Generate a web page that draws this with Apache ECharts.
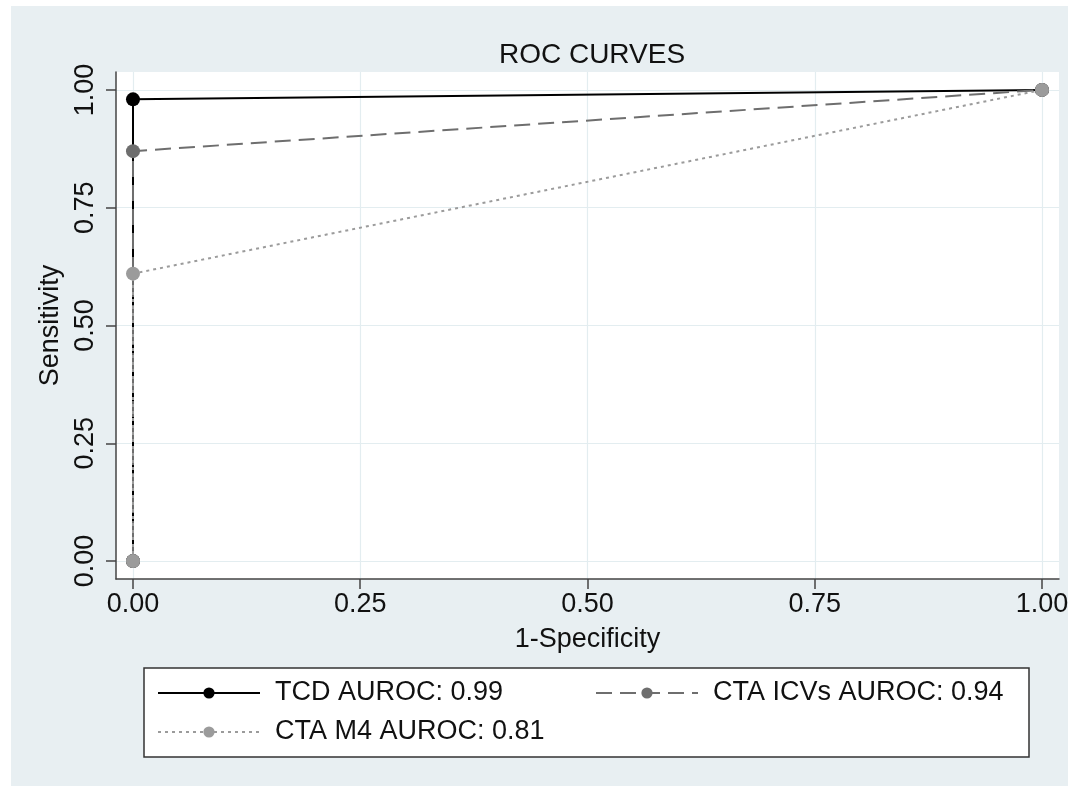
<!DOCTYPE html>
<html lang="en">

<head>
    <meta charset="UTF-8">
    <title>ROC curves</title>
    <script src="https://cdn.jsdelivr.net/npm/echarts@6/dist/echarts.min.js"></script>
    <style>
        body {
            margin: 0;
            background: #fff;
        }

        #chart {
            width: 1068px;
            height: 786px;
            background: linear-gradient(#e8eff2, #e8eff2) 11px 6px / 1057px 780px no-repeat, #fff;
        }
    </style>
</head>

<body>
    <div id="chart"></div>

    <script>
        // 1-specificity points shared by all three curves
        const fpr = [0, 0, 1];
        const tcdSens = [0, 0.98, 1];
        const icvSens = [0, 0.87, 1];
        const m4Sens = [0, 0.61, 1];

        const seriesNames = ['TCD AUROC: 0.99', 'CTA ICVs AUROC: 0.94', 'CTA M4 AUROC: 0.81'];
        const tickValues = [0, 0.25, 0.5, 0.75, 1];

        const font = '"Liberation Sans", Arial, Helvetica, sans-serif';

        function toPoints(ys) {
            return fpr.map((x, i) => [x, ys[i]]);
        }

        let chart = echarts.init(document.getElementById('chart'));

        let axisCommon = {
            type: 'value',
            nameLocation: 'middle',
            nameTextStyle: { fontSize: 27, color: '#111', fontFamily: font },
            axisLine: { show: true, onZero: false, lineStyle: { color: '#444', width: 1.5 } },
            axisTick: { show: true, length: 10, customValues: tickValues, lineStyle: { color: '#444', width: 1.5 } },
            axisLabel: {
                customValues: tickValues,
                fontSize: 27,
                color: '#111',
                fontFamily: font,
                formatter: v => v.toFixed(2)
            },
            splitLine: { show: true, lineStyle: { color: '#e3edf0', width: 1.2 } }
        };

        let option = {
            animation: false,
            backgroundColor: 'transparent',
            title: {
                text: 'ROC CURVES',
                left: 587,
                top: 36,
                textAlign: 'center',
                textStyle: { fontSize: 28, fontWeight: 'normal', color: '#111', fontFamily: font }
            },
            grid: {
                left: 116,
                right: 9,
                top: 72,
                bottom: 207,
                show: true,
                backgroundColor: '#fff',
                borderWidth: 0,
                containLabel: false,
                outerBoundsMode: 'none'
            },
            xAxis: Object.assign({}, axisCommon, {
                min: -0.0187,
                max: 1.0187,
                name: '1-Specificity',
                nameGap: 47,
                axisLabel: Object.assign({}, axisCommon.axisLabel, { margin: 12 })
            }),
            yAxis: Object.assign({}, axisCommon, {
                min: -0.038,
                max: 1.038,
                name: 'Sensitivity',
                nameGap: 49,
                nameRotate: 90,
                axisLabel: Object.assign({}, axisCommon.axisLabel, { rotate: 90, margin: 17 })
            }),
            legend: {
                left: 144,
                top: 668,
                width: 870,
                padding: [10, 5, 10, 13],
                itemGap: 9,
                itemWidth: 102,
                itemHeight: 14,
                borderColor: '#333',
                borderWidth: 1.5,
                backgroundColor: '#fff',
                data: seriesNames,
                textStyle: {
                    fontSize: 27,
                    lineHeight: 30,
                    color: '#111',
                    fontFamily: font,
                    width: 311,
                    padding: [0, 0, 0, 10]
                }
            },
            series: [
                {
                    name: seriesNames[0],
                    type: 'line',
                    data: toPoints(tcdSens),
                    symbol: 'circle',
                    symbolSize: 14,
                    itemStyle: { color: '#000' },
                    lineStyle: { color: '#000', width: 2 }
                },
                {
                    name: seriesNames[1],
                    type: 'line',
                    data: toPoints(icvSens),
                    symbol: 'circle',
                    symbolSize: 14,
                    itemStyle: { color: '#6e6e6e' },
                    lineStyle: { color: '#6e6e6e', width: 2, type: [16, 8] }
                },
                {
                    name: seriesNames[2],
                    type: 'line',
                    data: toPoints(m4Sens),
                    symbol: 'circle',
                    symbolSize: 14,
                    itemStyle: { color: '#9b9b9b' },
                    lineStyle: { color: '#9b9b9b', width: 2, type: [3, 4] }
                }
            ]
        };

        chart.setOption(option);
    </script>
</body>

</html>
